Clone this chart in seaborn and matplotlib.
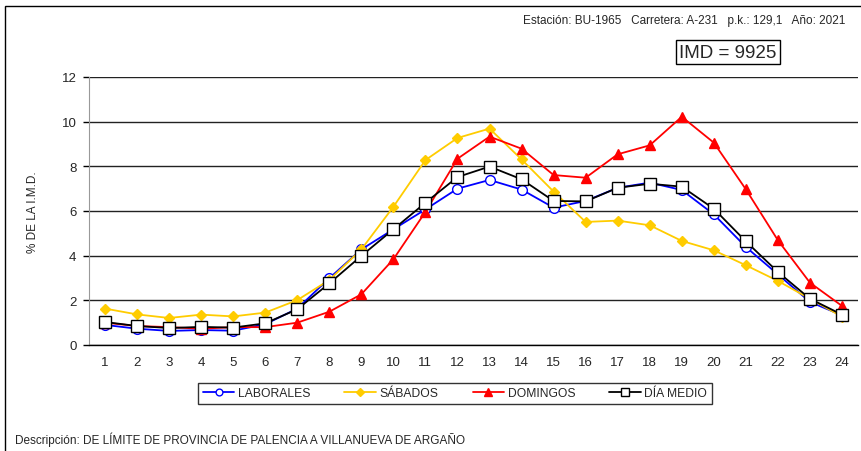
import numpy as np
import pandas as pd
import seaborn as sns
import matplotlib.pyplot as plt
from matplotlib.patches import Rectangle
plt.switch_backend('agg')

hours = list(range(1, 25))
laborales = [0.90, 0.73, 0.63, 0.67, 0.64, 0.93, 1.63, 2.99, 4.28, 5.18, 6.07, 7.00,
             7.39, 6.96, 6.15, 6.45, 7.04, 7.27, 6.94, 5.85, 4.39, 3.16, 1.93, 1.33]
sabados = [1.63, 1.37, 1.21, 1.36, 1.28, 1.45, 2.01, 2.91, 4.28, 6.19, 8.28, 9.27,
           9.69, 8.31, 6.87, 5.51, 5.57, 5.36, 4.66, 4.24, 3.57, 2.87, 2.07, 1.27]
domingos = [1.00, 0.85, 0.80, 0.73, 0.80, 0.80, 1.00, 1.49, 2.27, 3.84, 5.96, 8.34,
            9.33, 8.79, 7.61, 7.49, 8.54, 8.94, 10.22, 9.06, 6.97, 4.69, 2.79, 1.75]
dia_medio = [1.03, 0.85, 0.76, 0.81, 0.78, 0.97, 1.60, 2.76, 3.99, 5.18, 6.37, 7.52,
             7.99, 7.42, 6.45, 6.43, 7.04, 7.22, 7.09, 6.10, 4.64, 3.27, 2.07, 1.36]
series_names = ['LABORALES', 'SÁBADOS', 'DOMINGOS', 'DÍA MEDIO']
y_ticks = [0, 2, 4, 6, 8, 10, 12]

sns.set_style('white')
plt.rcParams['font.family'] = ['Liberation Sans', 'DejaVu Sans']

df = pd.DataFrame({'hora': hours * 4,
                   'pct': laborales + sabados + domingos + dia_medio,
                   'serie': np.repeat(series_names, 24)})

styles = {
    'LABORALES': dict(color='#0000FF', marker='o', markerfacecolor='white', markeredgecolor='#0000FF', markersize=7),
    'SÁBADOS': dict(color='#FFCC00', marker='D', markerfacecolor='#FFCC00', markeredgecolor='#FFCC00', markersize=5.5),
    'DOMINGOS': dict(color='#FF0000', marker='^', markerfacecolor='#FF0000', markeredgecolor='#FF0000', markersize=7.5),
    'DÍA MEDIO': dict(color='black', marker='s', markerfacecolor='white', markeredgecolor='black', markersize=8),
}

fig = plt.figure(figsize=(8.61, 4.52), dpi=100)
ax = fig.add_axes([89 / 861, 1 - 346 / 452, 769 / 861, 268 / 452])

for name in series_names:
    st = styles[name]
    sns.lineplot(data=df[df['serie'] == name], x='hora', y='pct', ax=ax, label=name,
                 color=st['color'], marker=st['marker'], markersize=st['markersize'],
                 markerfacecolor=st['markerfacecolor'], markeredgecolor=st['markeredgecolor'],
                 markeredgewidth=1, linewidth=1.3)

ax.set_xlim(0.5, 24.5)
ax.set_ylim(0, 12)
ax.set_yticks(y_ticks)
ax.set_xticks(hours)
ax.set_xticks(np.arange(0.5, 25, 1), minor=True)
ax.tick_params(axis='x', which='major', length=0, pad=8, labelsize=9.5)
ax.tick_params(axis='x', which='minor', length=4, width=1, color='black')
ax.tick_params(axis='y', length=4, width=1, color='black', labelsize=9.5, pad=5, left=True)
ax.yaxis.grid(True, color='#222222', linewidth=1)
ax.set_axisbelow(True)
ax.set_xlabel('')
ax.set_ylabel('% DE LA I.M.D.', fontsize=8.5, labelpad=16)
for s in ['top', 'right']:
    ax.spines[s].set_visible(False)
ax.spines['left'].set_color('#999999')
ax.spines['bottom'].set_color('black')
ax.spines['bottom'].set_linewidth(1)

ax.get_legend().remove()
handles, labels = ax.get_legend_handles_labels()
leg = fig.legend(handles, labels, ncol=4, mode='expand',
                 bbox_to_anchor=(198 / 861, 1 - 407 / 452, 514 / 861, 25 / 452),
                 loc='center', frameon=True, fancybox=False, fontsize=8.7,
                 handlelength=2.6, handletextpad=0.3, borderaxespad=0, markerscale=0.7)
leg.get_frame().set_edgecolor('black')
leg.get_frame().set_linewidth(1)

fig.text(845 / 861, 1 - 21 / 452, 'Estación: BU-1965   Carretera: A-231   p.k.: 129,1   Año: 2021',
         ha='right', va='center', fontsize=8.5)
fig.text(728 / 861, 1 - 53 / 452, 'IMD = 9925', ha='center', va='center', fontsize=13.5,
         bbox=dict(boxstyle='square,pad=0.2', facecolor='white', edgecolor='black', linewidth=1))
fig.text(15 / 861, 1 - 440 / 452, 'Descripción: DE LÍMITE DE PROVINCIA DE PALENCIA A VILLANUEVA DE ARGAÑO',
         ha='left', va='center', fontsize=8.5)

fig.patches.append(Rectangle((5 / 861, -0.1), 1.2, 1 - 7 / 452 + 0.1, transform=fig.transFigure,
                             fill=False, edgecolor='black', linewidth=1))

fig.savefig('out.png', dpi=100)
